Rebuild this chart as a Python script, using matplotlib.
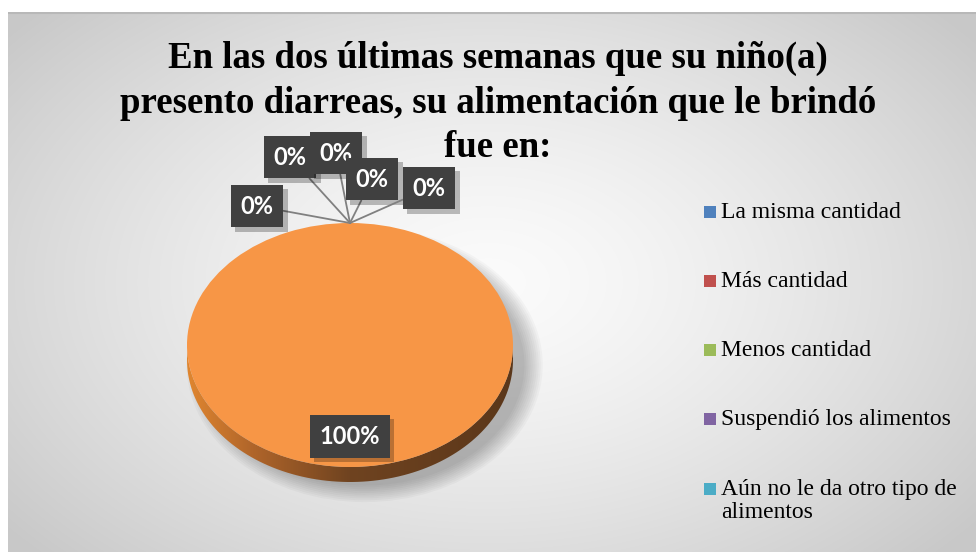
import matplotlib.pyplot as plt
import matplotlib.patheffects as pe
import numpy as np
from matplotlib.colors import LinearSegmentedColormap, to_rgb
from matplotlib.patches import Ellipse, PathPatch, Rectangle
from matplotlib.path import Path

W, H = 976, 552

title = "En las dos últimas semanas que su niño(a)\npresento diarreas, su alimentación que le brindó\nfue en:"
categories = [
    "La misma cantidad",
    "Más cantidad",
    "Menos cantidad",
    "Suspendió los alimentos",
    "Aún no le da otro tipo de\nalimentos",
    "",
]
values = [0, 0, 0, 0, 0, 100]
colors = ["#4f81bd", "#c0504d", "#9bbb59", "#8064a2", "#4bacc6", "#f79646"]

# label offsets (pixels) from each wedge anchor, 0% labels spread above the pie
label_offsets = [(-93, 17), (-60, 66), (-14, 70), (22, 44), (79, 35), None]

fig = plt.figure(figsize=(W / 100, H / 100), dpi=100)
fig.patch.set_facecolor("white")

# chart area background with a radial gradient
bg = fig.add_axes([8 / W, 0, 1 - 8 / W, 540 / H])
bg.set_axis_off()
yy, xx = np.mgrid[0:540, 0:968]
d = np.sqrt(((xx - 480) / 620) ** 2 + ((yy - 270) / 400) ** 2)
d = np.clip(d, 0, 1) ** 1.4
c0, c1 = np.array(to_rgb("#fbfbfb")), np.array(to_rgb("#c8c8c8"))
img = c0[None, None, :] * (1 - d[..., None]) + c1[None, None, :] * d[..., None]
bg.imshow(img, extent=(0, 968, 540, 0), aspect="auto")
bg.plot([0, 968], [1, 1], color="#b8b8b8", lw=1.5)
bg.set_xlim(0, 968)
bg.set_ylim(540, 0)

# pie axes: top ellipse 326 x 244 px, 15 px deep side
depth = 15 / 122
ax = fig.add_axes([187 / W, 70 / H, 326 / W, 259 / H])
wedges, _ = ax.pie(values, colors=colors, startangle=90, counterclock=False,
                   radius=1, wedgeprops=dict(linewidth=0, zorder=3))

# soft shadow, mostly to the right and below
for k in range(10):
    ax.add_patch(Ellipse((0.09, -depth - 0.04), 1.96 + 0.025 * k, 1.98 + 0.03 * k,
                         fc="black", ec="none", alpha=0.028, zorder=0, clip_on=False))

# side of the cylinder with horizontal shading
t = np.linspace(np.pi, 2 * np.pi, 100)
low = np.column_stack([np.cos(t), np.sin(t) - depth])
up = np.column_stack([np.cos(t[::-1]), np.sin(t[::-1])])
side = Path(np.vstack([low, up, low[:1]]), closed=True)
side_patch = PathPatch(side, fc="none", ec="none", zorder=1)
ax.add_patch(side_patch)
side_cmap = LinearSegmentedColormap.from_list(
    "side", [(0, "#e08630"), (0.2, "#b0652a"), (0.5, "#6f4320"), (1, "#5b371a")])
grad = np.linspace(0, 1, 256)[None, :]
im = ax.imshow(grad, cmap=side_cmap, extent=(-1, 1, -1 - depth, 0),
               aspect="auto", zorder=2)
im.set_clip_path(side_patch)

ax.set_xlim(-1, 1)
ax.set_ylim(-1 - depth, 1)
ax.set_aspect("auto")
ax.set_axis_off()

total = sum(values)
shadow = [pe.withSimplePatchShadow(offset=(3, -3), shadow_rgbFace="black", alpha=0.25), pe.Normal()]
for w, v, off in zip(wedges, values, label_offsets):
    mid = np.deg2rad((w.theta1 + w.theta2) / 2)
    txt = f"{v / total * 100:.0f}%"
    box = dict(boxstyle="square,pad=0.42", fc="#404040", ec="none", lw=0)
    if off is None:
        ann = ax.annotate(txt, xy=(0.75 * np.cos(mid), 0.75 * np.sin(mid)),
                          ha="center", va="center", fontsize=17, fontweight="bold",
                          family="Lato", color="white", bbox=box, zorder=6)
    else:
        ann = ax.annotate(txt, xy=(np.cos(mid), np.sin(mid)), xytext=off,
                          textcoords="offset pixels", ha="center", va="center",
                          fontsize=17, fontweight="bold", family="Lato", color="white",
                          bbox=box, zorder=6, annotation_clip=False,
                          arrowprops=dict(arrowstyle="-", color="#808080", lw=1.3,
                                          shrinkA=0, shrinkB=0))
    ann.get_bbox_patch().set_path_effects(shadow)

fig.text(498 / W, 1 - 103 / H, title, ha="center", va="center", ma="center",
         fontsize=26.5, fontweight="bold", family=["Liberation Serif", "DejaVu Serif"],
         linespacing=1.36)

# legend
leg_y = [212, 281, 350, 419, 489]
for name, col, y in zip(categories[:5], colors[:5], leg_y):
    fig.patches.append(Rectangle(((704) / W, 1 - (y + 6) / H), 12 / W, 12 / H,
                                 transform=fig.transFigure, fc=col, ec="none"))
    fig.text(721 / W, 1 - (y - 10) / H, name, ha="left", va="top",
             fontsize=17, family=["Liberation Serif", "DejaVu Serif"], linespacing=1.1)

fig.savefig("out.png", dpi=100)
